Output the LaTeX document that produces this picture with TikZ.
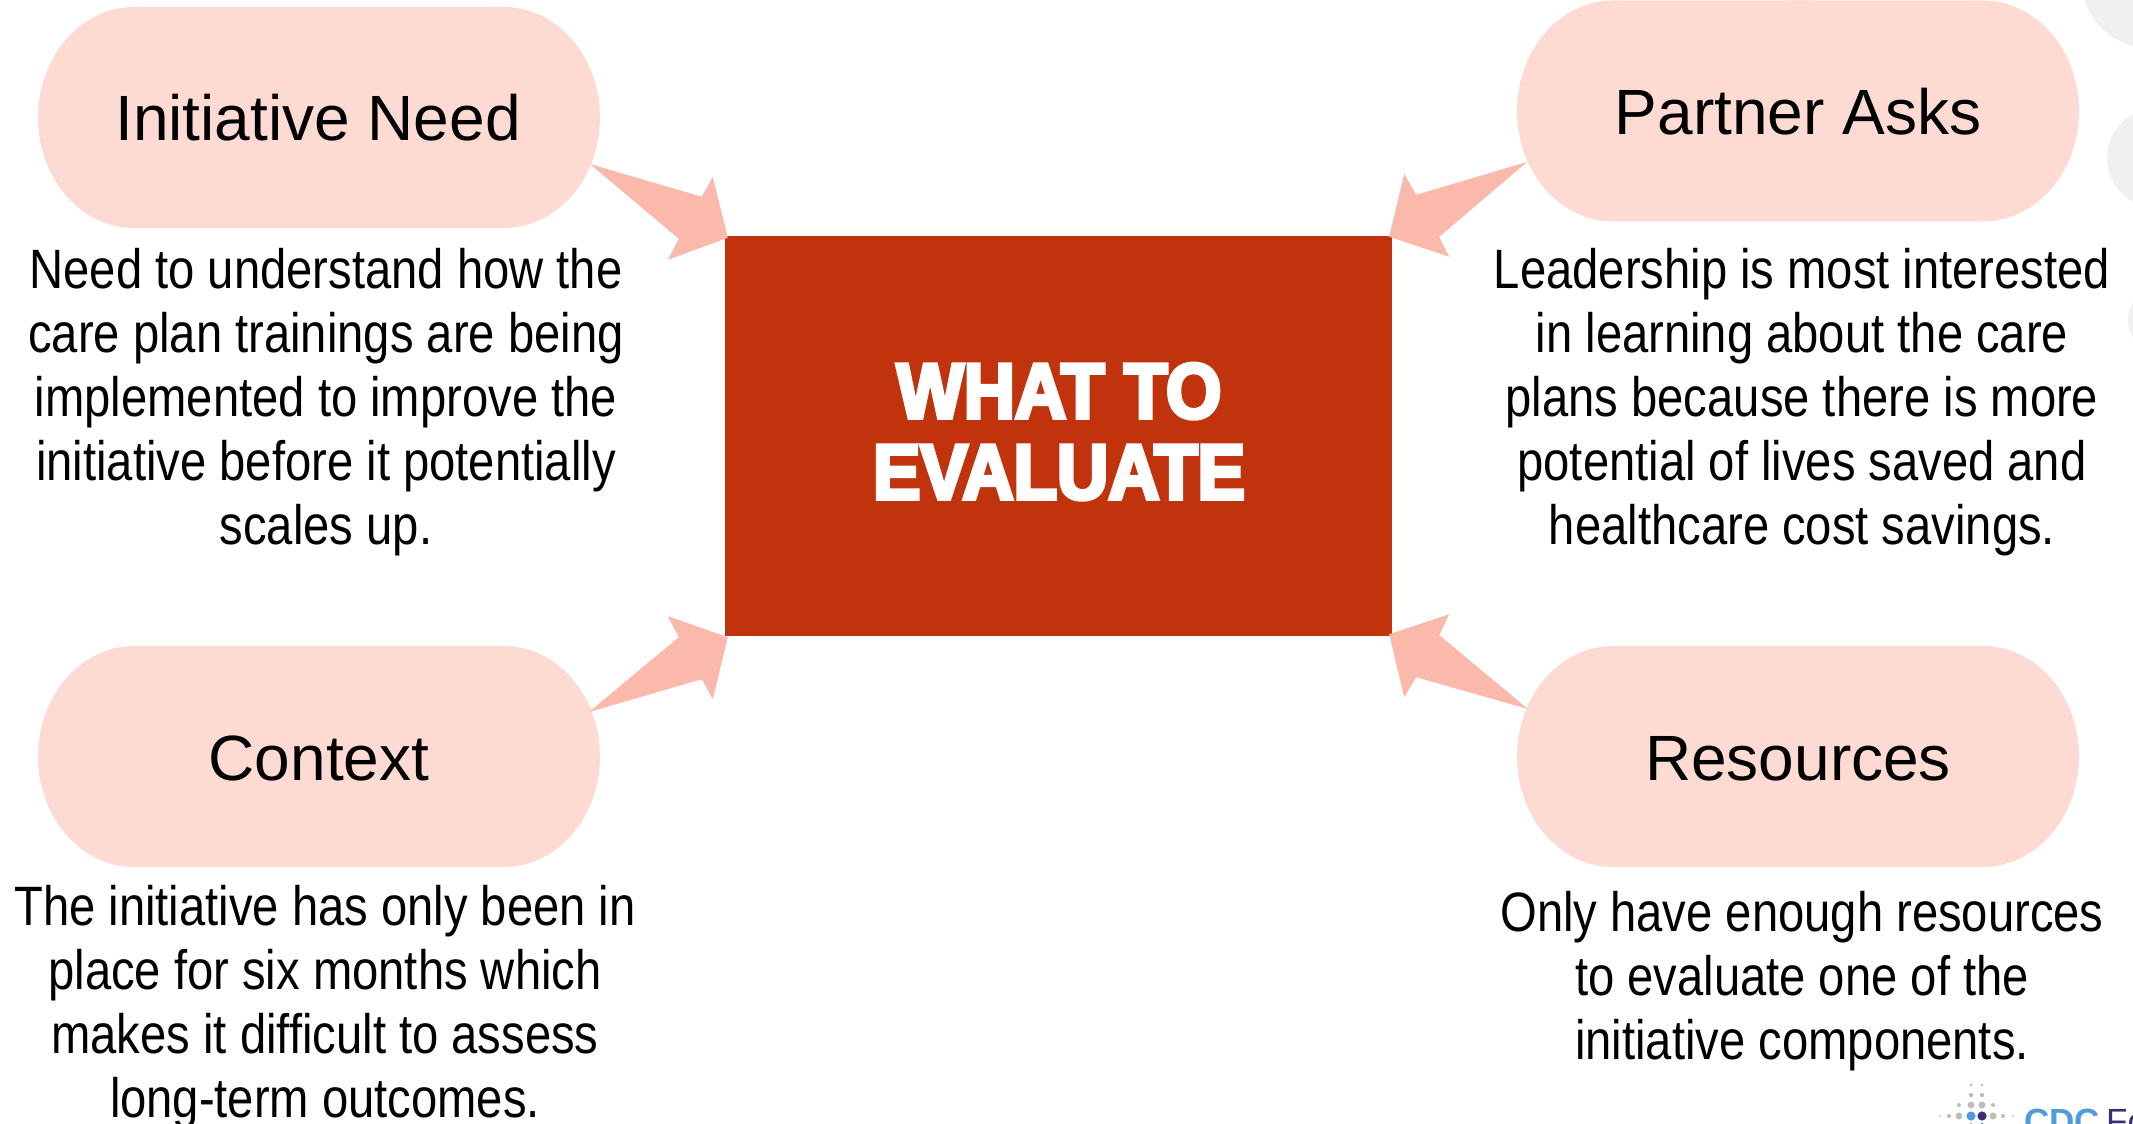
\documentclass[tikz,border=0pt]{standalone}
\usepackage{fontspec}
\setmainfont{Liberation Sans}
\newfontfamily\bodyfont[FakeStretch=0.85]{Liberation Sans}
\newfontfamily\heavyfont[FakeBold=5,FakeStretch=0.91]{Liberation Sans Bold}
\definecolor{pillc}{HTML}{FDDBD2}
\definecolor{arrowc}{HTML}{FAB9AA}
\definecolor{boxc}{HTML}{C1330C}
\definecolor{greyc}{HTML}{F0F0F0}
\definecolor{dotc}{HTML}{BDBDBD}
\definecolor{bluec}{HTML}{4F9BDC}
\definecolor{navyc}{HTML}{3B2F73}
\tikzset{
  pilltitle/.style={inner sep=0pt,anchor=base,font=\fontsize{64}{70}\selectfont},
  bodytext/.style={inner sep=0pt,align=center,font=\bodyfont\fontsize{55.5}{64}\selectfont},
  dot/.style={fill=dotc}
}
% pill: centre x, centre y
\newcommand{\pillshape}[2]{%
  \fill[pillc] ({#1-281},#2)
    .. controls ({#1-281},{#2-61}) and ({#1-238},{#2-110.5}) .. ({#1-185},{#2-110.5})
    -- ({#1+185},{#2-110.5})
    .. controls ({#1+238},{#2-110.5}) and ({#1+281},{#2-61}) .. ({#1+281},#2)
    .. controls ({#1+281},{#2+61}) and ({#1+238},{#2+110.5}) .. ({#1+185},{#2+110.5})
    -- ({#1-185},{#2+110.5})
    .. controls ({#1-238},{#2+110.5}) and ({#1-281},{#2+61}) .. ({#1-281},#2) -- cycle;}
\newcommand{\blockarrow}[6]{% tail, tip, then four offsets from tip
  \fill[arrowc] (#1) -- ($(#2)+(#3)$) -- ($(#2)+(#4)$) -- (#2) -- ($(#2)+(#5)$) -- ($(#2)+(#6)$) -- cycle;}
\usetikzlibrary{calc}
\begin{document}
\begin{tikzpicture}[x=1pt,y=-1pt]
\useasboundingbox (0,0) rectangle (2133,1124);
\clip (0,0) rectangle (2133,1124);
% background circles
\fill[greyc] (2152,-22) circle (71);
\fill[greyc] (2157,158) circle (50);
\fill[greyc] (2160,320) circle (32);
\fill[greyc] (1800,-50) circle (52);
% pills
\pillshape{319}{117.5}
\pillshape{1798}{111}
\pillshape{319}{756.5}
\pillshape{1798}{756.5}
% centre box
\node[fill=boxc,minimum width=667pt,minimum height=400pt,inner sep=0pt] (what) at (1058.5,436) {};
\node[inner sep=0pt,text=white,anchor=base,font=\heavyfont\fontsize{78}{80}\selectfont] (whatA) at (1059,418) {WHAT TO};
\node[inner sep=0pt,text=white,anchor=base,font=\heavyfont\fontsize{78}{80}\selectfont] (whatB) at (1059,499) {EVALUATE};
% titles
\node[pilltitle] (need) at (318,140) {Initiative Need};
\node[pilltitle] (asks) at (1798,134) {Partner Asks};
\node[pilltitle] (context) at (319,780) {Context};
\node[pilltitle] (res) at (1798,780) {Resources};
% arrow ends
\coordinate (tlTail) at (590,164);
\coordinate (trTail) at (1527,162);
\coordinate (blTail) at (589,712);
\coordinate (brTail) at (1528,709);
\coordinate (tlTip) at ($(what.north west)+(3,2)$);
\coordinate (trTip) at ($(what.north east)+(-3,1)$);
\coordinate (blTip) at ($(what.south west)+(3,1)$);
\coordinate (brTip) at ($(what.south east)+(-3,-2)$);
\blockarrow{tlTail}{tlTip}{-26,-41}{-15,-61}{-60,22}{-49,1}
\blockarrow{trTail}{trTip}{27,-42}{15,-63}{60,20}{50,0}
\blockarrow{blTail}{blTip}{-26,42}{-15,62}{-60,-21}{-49,0}
\blockarrow{brTail}{brTip}{27,43}{15,63}{60,-20}{50,1}
% body text
\node[bodytext] (needText) at (326,402.5) {Need to understand how the\\care plan trainings are being\\implemented to improve the\\initiative before it potentially\\scales up.};
\node[bodytext] (asksText) at (1802,402.5) {Leadership is most interested\\in learning about the care\\plans because there is more\\potential of lives saved and\\healthcare cost savings.};
\node[bodytext] (contextText) at (325,1007.5) {The initiative has only been in\\place for six months which\\makes it difficult to assess\\long-term outcomes.};
\node[bodytext] (resText) at (1802,981.5) {Only have enough resources\\to evaluate one of the\\initiative components.};
% logo
\foreach \x/\y/\r in {1971/1085/1.5,1982/1085/1.5,1971/1095/2.2,1982/1095/2.2,
  1959/1105/2,1971/1105/3.5,1982/1105/3.5,1993/1105/2,
  1940/1116/1,1949/1116/2,1959/1116/3.5,1993/1116/3.5,2003/1116/2,2013/1116/1,1971/1124/1.5}
  \fill[dot] (\x,\y) circle (\r);
\fill[bluec] (1971,1116) circle (4.6);
\fill[navyc] (1982,1116) circle (4.6);
\fill[bluec!70!teal] (1982,1124) circle (1.5);
\node[inner sep=0pt,anchor=base west,text=bluec,font=\fontsize{35}{40}\selectfont\bfseries] (cdc) at (2024,1133) {CDC};
\node[inner sep=0pt,anchor=base west,text=navyc,font=\fontsize{35}{40}\selectfont] (fo) at (2106,1133) {Fo};
\end{tikzpicture}
\end{document}
